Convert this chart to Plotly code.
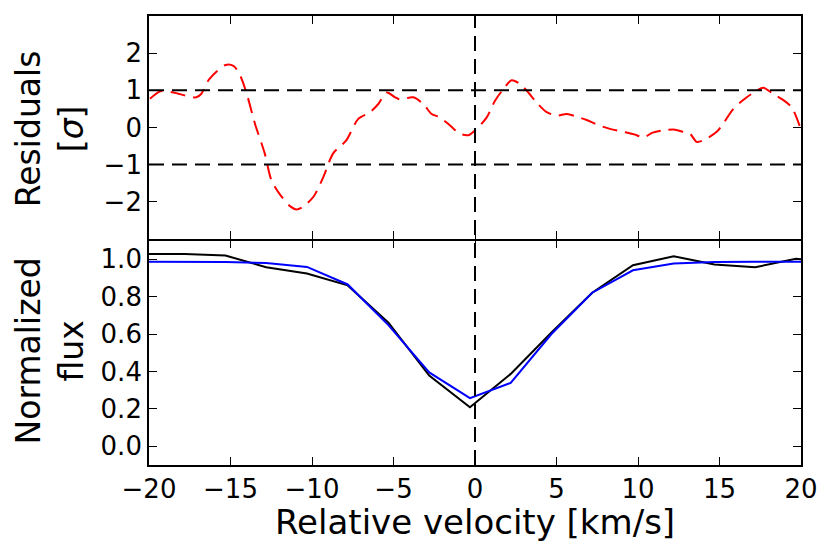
import plotly.graph_objects as go

# Residuals (top panel)
res_v = [-19.94, -19.3, -18.5, -17.7, -17.1, -16.8, -16.3, -15.3, -14.8, -14.4, -14.0,
         -13.5, -12.9, -12.5, -11.96, -11.35, -10.94, -10.5, -9.9, -9.3, -8.7, -7.9,
         -7.16, -6.44, -5.93, -5.42, -4.9, -4.6, -3.79, -3.17, -2.66, -2.15, -1.53,
         -0.92, -0.41, 0.1, 0.72, 1.23, 1.74, 2.25, 2.76, 3.27, 3.78, 4.4, 5.01, 5.63,
         6.24, 6.85, 7.47, 8.28, 9.1, 9.92, 10.3, 10.9, 11.55, 12.27, 12.78, 13.19,
         13.6, 14.0, 14.83, 15.23, 15.85, 16.67, 17.28, 17.69, 18.3, 18.9, 19.43, 19.94]
res_sigma = [0.77, 0.97, 0.94, 0.85, 0.81, 0.90, 1.30, 1.68, 1.65, 1.39, 0.90,
             0.10, -0.70, -1.41, -1.81, -2.12, -2.21, -2.12, -1.86, -1.33, -0.70, -0.35,
             0.23, 0.41, 0.63, 0.94, 0.81, 0.75, 0.81, 0.63, 0.36, 0.27, 0.05,
             -0.17, -0.21, -0.04, 0.27, 0.72, 1.03, 1.27, 1.17, 0.94, 0.67, 0.41, 0.32, 0.36,
             0.29, 0.20, 0.08, -0.04, -0.12, -0.21, -0.28, -0.14, -0.08, -0.06, -0.12, -0.17,
             -0.39, -0.35, -0.12, 0.10, 0.50, 0.81, 0.99, 1.07, 0.90, 0.74, 0.54, 0.01]

# Normalized flux (bottom panel)
flux_v = [-20.31, -17.81, -15.31, -12.81, -10.31, -7.81, -5.31, -2.81, -0.31,
          2.19, 4.69, 7.19, 9.69, 12.19, 14.69, 17.19, 19.69, 22.19]
flux_obs = [1.028, 1.028, 1.020, 0.957, 0.924, 0.860, 0.661, 0.378, 0.209,
            0.387, 0.608, 0.821, 0.968, 1.016, 0.972, 0.957, 1.002, 0.985]
flux_model = [0.986, 0.986, 0.985, 0.980, 0.959, 0.865, 0.648, 0.395, 0.257,
              0.339, 0.600, 0.821, 0.941, 0.977, 0.985, 0.986, 0.986, 0.986]

x_ticks = [-20, -15, -10, -5, 0, 5, 10, 15, 20]
res_ticks = [-2, -1, 0, 1, 2]
flux_ticks = [0.0, 0.2, 0.4, 0.6, 0.8, 1.0]
sigma_levels = [-1, 1]

FONT = "DejaVu Sans"
DASH = "15px,8px"
LW = 1.7

fig = go.Figure()
fig.add_trace(go.Scatter(x=res_v, y=res_sigma, mode="lines", xaxis="x2", yaxis="y2",
                         line=dict(color="#ff0000", width=2, dash=DASH, shape="spline",
                                   smoothing=0.8),
                         showlegend=False))
fig.add_trace(go.Scatter(x=flux_v, y=flux_obs, mode="lines", xaxis="x", yaxis="y",
                         line=dict(color="black", width=2), showlegend=False))
fig.add_trace(go.Scatter(x=flux_v, y=flux_model, mode="lines", xaxis="x", yaxis="y",
                         line=dict(color="#0000ff", width=2), showlegend=False))

axis_common = dict(showline=True, linecolor="black", linewidth=LW, mirror="ticks",
                   ticks="inside", ticklen=8, tickwidth=1.2, tickcolor="black",
                   showgrid=False, zeroline=False,
                   tickfont=dict(family=FONT, size=26, color="black"))

split_top = 0.5 + LW / 451.0

fig.update_layout(
    width=831, height=552,
    margin=dict(l=141, r=38, t=6, b=95),
    paper_bgcolor="white", plot_bgcolor="white",
    font=dict(family=FONT, color="black"),
    xaxis=dict(domain=[0, 1], anchor="y", range=[-20, 20], tickvals=x_ticks, **axis_common),
    yaxis=dict(domain=[0, 0.5], anchor="x", range=[-0.1, 1.1], tickvals=flux_ticks,
               tickformat=".1f", **axis_common),
    xaxis2=dict(domain=[0, 1], anchor="y2", range=[-20, 20], tickvals=x_ticks,
                showticklabels=False, matches="x", **axis_common),
    yaxis2=dict(domain=[split_top, 1], anchor="x2", range=[-3, 3], tickvals=res_ticks,
                **axis_common),
)

for lvl in sigma_levels:
    fig.add_shape(type="line", xref="x2 domain", yref="y2", x0=0, x1=1, y0=lvl, y1=lvl,
                  line=dict(color="black", width=2, dash=DASH))
fig.add_shape(type="line", xref="x", yref="paper", x0=0, x1=0, y0=0, y1=1,
              line=dict(color="black", width=2, dash=DASH))

fig.add_annotation(text="Residuals<br>[<i>σ</i>]", xref="paper", yref="paper",
                   x=-0.152, y=0.75, xanchor="center", yanchor="middle", textangle=-90,
                   showarrow=False, font=dict(family=FONT, size=33, color="black"))
fig.add_annotation(text="Normalized<br>flux", xref="paper", yref="paper",
                   x=-0.152, y=0.255, xanchor="center", yanchor="middle", textangle=-90,
                   showarrow=False, font=dict(family=FONT, size=33, color="black"))
fig.add_annotation(text="Relative velocity [km/s]", xref="paper", yref="paper",
                   x=0.5, y=-0.128, xanchor="center", yanchor="middle",
                   showarrow=False, font=dict(family=FONT, size=34, color="black"))

fig.write_html("out.html")
